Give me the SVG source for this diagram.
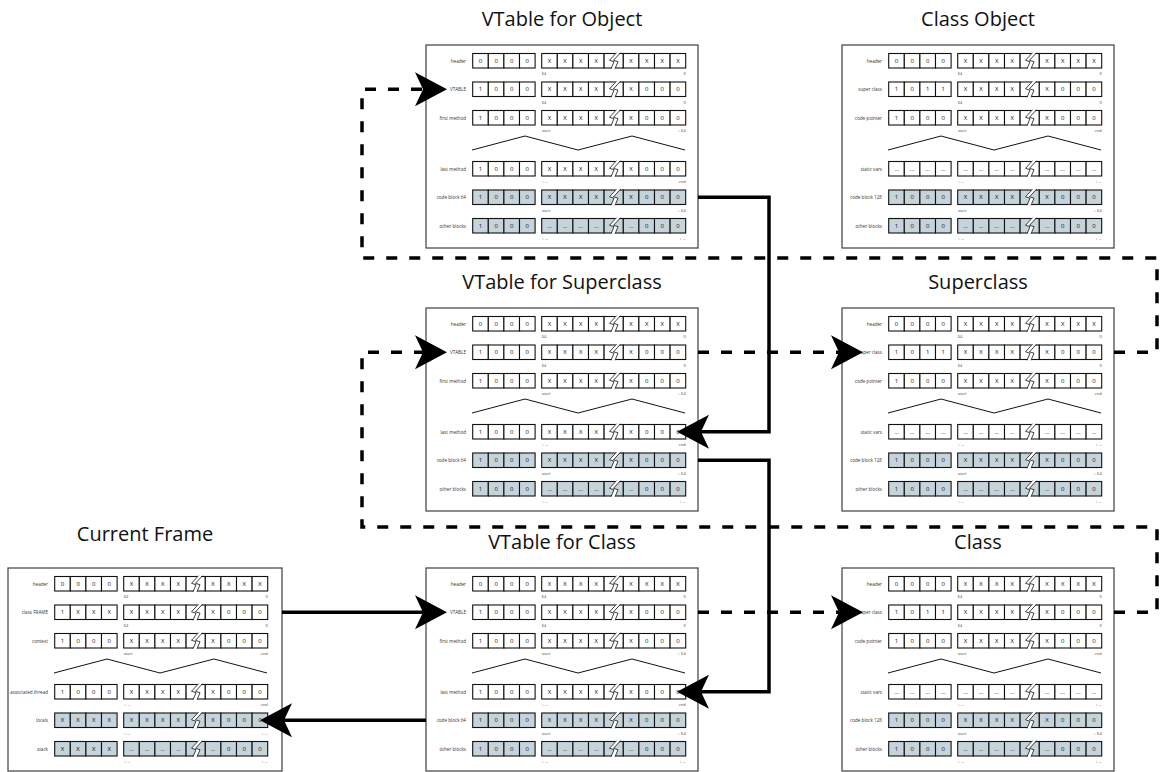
<svg xmlns="http://www.w3.org/2000/svg" xmlns:xlink="http://www.w3.org/1999/xlink" width="1160" height="772" viewBox="0 0 1160 772">
<style>
.box{fill:#fff;stroke:#4d4d4d;stroke-width:1.3}
.lb{font-family:"Open Sans","Liberation Sans",sans-serif;font-size:4.6px;fill:#333;text-anchor:end}
.cv{font-family:"Open Sans","Liberation Sans",sans-serif;font-size:6px;fill:#111;text-anchor:middle}
.sl{font-family:"Open Sans","Liberation Sans",sans-serif;font-size:4px;fill:#444;text-anchor:start}
.sr{font-family:"Open Sans","Liberation Sans",sans-serif;font-size:4px;fill:#444;text-anchor:end}
.title{font-family:"Open Sans","Liberation Sans",sans-serif;font-size:20px;fill:#111;text-anchor:middle}
.zz{fill:none;stroke:#111;stroke-width:1}
.conn{fill:none;stroke:#000;stroke-width:3.5;marker-end:url(#ah)}
.dash{stroke-dasharray:11 12}
</style>
<defs>
<marker id="ah" markerUnits="userSpaceOnUse" orient="auto" markerWidth="44" markerHeight="44" viewBox="-44 -22 44 44" refX="-10" refY="0" overflow="visible">
<path d="M0,0 L-32,-17 L-24,0 L-32,17 Z" fill="#000"/>
</marker>
<g id="cells" stroke="#111" stroke-width="1.1">
<rect x="46.7" y="0" width="15.6" height="14.5"/>
<rect x="62.3" y="0" width="15.6" height="14.5"/>
<rect x="77.9" y="0" width="15.6" height="14.5"/>
<rect x="93.5" y="0" width="15.6" height="14.5"/>
<rect x="115.7" y="0" width="15.6" height="14.5"/>
<rect x="131.3" y="0" width="15.6" height="14.5"/>
<rect x="146.9" y="0" width="15.6" height="14.5"/>
<rect x="162.5" y="0" width="15.6" height="14.5"/>
<rect x="178.1" y="0" width="19.2" height="14.5"/>
<rect x="197.3" y="0" width="15.6" height="14.5"/>
<rect x="212.9" y="0" width="15.6" height="14.5"/>
<rect x="228.5" y="0" width="15.6" height="14.5"/>
<rect x="244.1" y="0" width="15.6" height="14.5"/>
<polygon fill="#fff" stroke="none" points="190.5,-1.2 183.5,6.8 188,8.2 185,15.7 189,15.7 192,8.2 187.5,6.8 194.5,-1.2"/>
<polyline fill="none" stroke-width="0.8" points="190.5,-0.8 183.5,6.8 188,8.2 185,15.3"/>
<polyline fill="none" stroke-width="0.8" points="194.5,-0.8 187.5,6.8 192,8.2 189,15.3"/>
</g>
</defs>

<!-- VTable for Object -->
<g id="vtable-object">
<text class="title" x="562" y="26">VTable for Object</text>
<g transform="translate(426,45)">
<rect class="box" x="0" y="0" width="272" height="203"/>
<polyline class="zz" points="46,105 99,91 152,105 206,91 259,105"/>
<g transform="translate(0,8.5)"><use xlink:href="#cells" fill="#fff"/><text class="lb" x="40" y="9">header</text><text class="cv" x="54.5 70.1 85.7 101.3 123.5 139.1 154.7 170.3 205.1 220.7 236.3 251.9" y="9.4">0000XXXXXXXX</text><text class="sl" x="115.7" y="21.5">64</text><text class="sr" x="259.7" y="21.5">0</text></g>
<g transform="translate(0,37)"><use xlink:href="#cells" fill="#fff"/><text class="lb" x="40" y="9">VTABLE</text><text class="cv" x="54.5 70.1 85.7 101.3 123.5 139.1 154.7 170.3 205.1 220.7 236.3 251.9" y="9.4">1000XXXXX000</text><text class="sl" x="115.7" y="21.5">64</text><text class="sr" x="259.7" y="21.5">0</text></g>
<g transform="translate(0,65.5)"><use xlink:href="#cells" fill="#fff"/><text class="lb" x="40" y="9">first method</text><text class="cv" x="54.5 70.1 85.7 101.3 123.5 139.1 154.7 170.3 205.1 220.7 236.3 251.9" y="9.4">1000XXXXX000</text><text class="sl" x="115.7" y="21.5">start</text><text class="sr" x="259.7" y="21.5">+ 64</text></g>
<g transform="translate(0,116.5)"><use xlink:href="#cells" fill="#fff"/><text class="lb" x="40" y="9">last method</text><text class="cv" x="54.5 70.1 85.7 101.3 123.5 139.1 154.7 170.3 205.1 220.7 236.3 251.9" y="9.4">1000XXXXX000</text><text class="sl" x="115.7" y="21.5">+ &#8230;</text><text class="sr" x="259.7" y="21.5">end</text></g>
<g transform="translate(0,145)"><use xlink:href="#cells" fill="#c5d4db"/><text class="lb" x="40" y="9">code block 64</text><text class="cv" x="54.5 70.1 85.7 101.3 123.5 139.1 154.7 170.3 205.1 220.7 236.3 251.9" y="9.4">1000XXXXX000</text><text class="sl" x="115.7" y="21.5">start</text><text class="sr" x="259.7" y="21.5">+ 64</text></g>
<g transform="translate(0,173.5)"><use xlink:href="#cells" fill="#c5d4db"/><text class="lb" x="40" y="9">other blocks</text><text class="cv" x="54.5 70.1 85.7 101.3 123.5 139.1 154.7 170.3 205.1 220.7 236.3 251.9" y="9.4">1000&#8230;&#8230;&#8230;&#8230;&#8230;000</text><text class="sl" x="115.7" y="21.5">+ &#8230;</text><text class="sr" x="259.7" y="21.5">+ &#8230;</text></g>
</g>
</g>

<!-- Class Object -->
<g id="class-object">
<text class="title" x="978" y="26">Class Object</text>
<g transform="translate(842,45)">
<rect class="box" x="0" y="0" width="272" height="203"/>
<polyline class="zz" points="46,105 99,91 152,105 206,91 259,105"/>
<g transform="translate(0,8.5)"><use xlink:href="#cells" fill="#fff"/><text class="lb" x="40" y="9">header</text><text class="cv" x="54.5 70.1 85.7 101.3 123.5 139.1 154.7 170.3 205.1 220.7 236.3 251.9" y="9.4">0000XXXXXXXX</text><text class="sl" x="115.7" y="21.5">64</text><text class="sr" x="259.7" y="21.5">0</text></g>
<g transform="translate(0,37)"><use xlink:href="#cells" fill="#fff"/><text class="lb" x="40" y="9">super class</text><text class="cv" x="54.5 70.1 85.7 101.3 123.5 139.1 154.7 170.3 205.1 220.7 236.3 251.9" y="9.4">1011XXXXX000</text><text class="sl" x="115.7" y="21.5">64</text><text class="sr" x="259.7" y="21.5">0</text></g>
<g transform="translate(0,65.5)"><use xlink:href="#cells" fill="#fff"/><text class="lb" x="40" y="9">code pointer</text><text class="cv" x="54.5 70.1 85.7 101.3 123.5 139.1 154.7 170.3 205.1 220.7 236.3 251.9" y="9.4">1000XXXXX000</text><text class="sl" x="115.7" y="21.5">start</text><text class="sr" x="259.7" y="21.5">end</text></g>
<g transform="translate(0,116.5)"><use xlink:href="#cells" fill="#fff"/><text class="lb" x="40" y="9">static vars</text><text class="cv" x="54.5 70.1 85.7 101.3 123.5 139.1 154.7 170.3 205.1 220.7 236.3 251.9" y="9.4">&#8230;&#8230;&#8230;&#8230;&#8230;&#8230;&#8230;&#8230;&#8230;&#8230;&#8230;&#8230;</text><text class="sl" x="115.7" y="21.5">+ &#8230;</text><text class="sr" x="259.7" y="21.5">+ &#8230;</text></g>
<g transform="translate(0,145)"><use xlink:href="#cells" fill="#c5d4db"/><text class="lb" x="40" y="9">code block 128</text><text class="cv" x="54.5 70.1 85.7 101.3 123.5 139.1 154.7 170.3 205.1 220.7 236.3 251.9" y="9.4">1000XXXXX000</text><text class="sl" x="115.7" y="21.5">start</text><text class="sr" x="259.7" y="21.5">+ 64</text></g>
<g transform="translate(0,173.5)"><use xlink:href="#cells" fill="#c5d4db"/><text class="lb" x="40" y="9">other blocks</text><text class="cv" x="54.5 70.1 85.7 101.3 123.5 139.1 154.7 170.3 205.1 220.7 236.3 251.9" y="9.4">1000&#8230;&#8230;&#8230;&#8230;&#8230;000</text><text class="sl" x="115.7" y="21.5">+ &#8230;</text><text class="sr" x="259.7" y="21.5">+ &#8230;</text></g>
</g>
</g>

<!-- VTable for Superclass -->
<g id="vtable-superclass">
<text class="title" x="562" y="289">VTable for Superclass</text>
<g transform="translate(426,308)">
<rect class="box" x="0" y="0" width="272" height="203"/>
<polyline class="zz" points="46,105 99,91 152,105 206,91 259,105"/>
<g transform="translate(0,8.5)"><use xlink:href="#cells" fill="#fff"/><text class="lb" x="40" y="9">header</text><text class="cv" x="54.5 70.1 85.7 101.3 123.5 139.1 154.7 170.3 205.1 220.7 236.3 251.9" y="9.4">0000XXXXXXXX</text><text class="sl" x="115.7" y="21.5">64</text><text class="sr" x="259.7" y="21.5">0</text></g>
<g transform="translate(0,37)"><use xlink:href="#cells" fill="#fff"/><text class="lb" x="40" y="9">VTABLE</text><text class="cv" x="54.5 70.1 85.7 101.3 123.5 139.1 154.7 170.3 205.1 220.7 236.3 251.9" y="9.4">1000XXXXX000</text><text class="sl" x="115.7" y="21.5">64</text><text class="sr" x="259.7" y="21.5">0</text></g>
<g transform="translate(0,65.5)"><use xlink:href="#cells" fill="#fff"/><text class="lb" x="40" y="9">first method</text><text class="cv" x="54.5 70.1 85.7 101.3 123.5 139.1 154.7 170.3 205.1 220.7 236.3 251.9" y="9.4">1000XXXXX000</text><text class="sl" x="115.7" y="21.5">start</text><text class="sr" x="259.7" y="21.5">+ 64</text></g>
<g transform="translate(0,116.5)"><use xlink:href="#cells" fill="#fff"/><text class="lb" x="40" y="9">last method</text><text class="cv" x="54.5 70.1 85.7 101.3 123.5 139.1 154.7 170.3 205.1 220.7 236.3 251.9" y="9.4">1000XXXXX000</text><text class="sl" x="115.7" y="21.5">+ &#8230;</text><text class="sr" x="259.7" y="21.5">end</text></g>
<g transform="translate(0,145)"><use xlink:href="#cells" fill="#c5d4db"/><text class="lb" x="40" y="9">code block 64</text><text class="cv" x="54.5 70.1 85.7 101.3 123.5 139.1 154.7 170.3 205.1 220.7 236.3 251.9" y="9.4">1000XXXXX000</text><text class="sl" x="115.7" y="21.5">start</text><text class="sr" x="259.7" y="21.5">+ 64</text></g>
<g transform="translate(0,173.5)"><use xlink:href="#cells" fill="#c5d4db"/><text class="lb" x="40" y="9">other blocks</text><text class="cv" x="54.5 70.1 85.7 101.3 123.5 139.1 154.7 170.3 205.1 220.7 236.3 251.9" y="9.4">1000&#8230;&#8230;&#8230;&#8230;&#8230;000</text><text class="sl" x="115.7" y="21.5">+ &#8230;</text><text class="sr" x="259.7" y="21.5">+ &#8230;</text></g>
</g>
</g>

<!-- Superclass -->
<g id="superclass">
<text class="title" x="978" y="289">Superclass</text>
<g transform="translate(842,308)">
<rect class="box" x="0" y="0" width="272" height="203"/>
<polyline class="zz" points="46,105 99,91 152,105 206,91 259,105"/>
<g transform="translate(0,8.5)"><use xlink:href="#cells" fill="#fff"/><text class="lb" x="40" y="9">header</text><text class="cv" x="54.5 70.1 85.7 101.3 123.5 139.1 154.7 170.3 205.1 220.7 236.3 251.9" y="9.4">0000XXXXXXXX</text><text class="sl" x="115.7" y="21.5">64</text><text class="sr" x="259.7" y="21.5">0</text></g>
<g transform="translate(0,37)"><use xlink:href="#cells" fill="#fff"/><text class="lb" x="40" y="9">super class</text><text class="cv" x="54.5 70.1 85.7 101.3 123.5 139.1 154.7 170.3 205.1 220.7 236.3 251.9" y="9.4">1011XXXXX000</text><text class="sl" x="115.7" y="21.5">64</text><text class="sr" x="259.7" y="21.5">0</text></g>
<g transform="translate(0,65.5)"><use xlink:href="#cells" fill="#fff"/><text class="lb" x="40" y="9">code pointer</text><text class="cv" x="54.5 70.1 85.7 101.3 123.5 139.1 154.7 170.3 205.1 220.7 236.3 251.9" y="9.4">1000XXXXX000</text><text class="sl" x="115.7" y="21.5">start</text><text class="sr" x="259.7" y="21.5">end</text></g>
<g transform="translate(0,116.5)"><use xlink:href="#cells" fill="#fff"/><text class="lb" x="40" y="9">static vars</text><text class="cv" x="54.5 70.1 85.7 101.3 123.5 139.1 154.7 170.3 205.1 220.7 236.3 251.9" y="9.4">&#8230;&#8230;&#8230;&#8230;&#8230;&#8230;&#8230;&#8230;&#8230;&#8230;&#8230;&#8230;</text><text class="sl" x="115.7" y="21.5">+ &#8230;</text><text class="sr" x="259.7" y="21.5">+ &#8230;</text></g>
<g transform="translate(0,145)"><use xlink:href="#cells" fill="#c5d4db"/><text class="lb" x="40" y="9">code block 128</text><text class="cv" x="54.5 70.1 85.7 101.3 123.5 139.1 154.7 170.3 205.1 220.7 236.3 251.9" y="9.4">1000XXXXX000</text><text class="sl" x="115.7" y="21.5">start</text><text class="sr" x="259.7" y="21.5">+ 64</text></g>
<g transform="translate(0,173.5)"><use xlink:href="#cells" fill="#c5d4db"/><text class="lb" x="40" y="9">other blocks</text><text class="cv" x="54.5 70.1 85.7 101.3 123.5 139.1 154.7 170.3 205.1 220.7 236.3 251.9" y="9.4">1000&#8230;&#8230;&#8230;&#8230;&#8230;000</text><text class="sl" x="115.7" y="21.5">+ &#8230;</text><text class="sr" x="259.7" y="21.5">+ &#8230;</text></g>
</g>
</g>

<!-- Current Frame -->
<g id="current-frame">
<text class="title" x="145" y="541">Current Frame</text>
<g transform="translate(8,568)">
<rect class="box" x="0" y="0" width="274" height="203"/>
<polyline class="zz" points="46,105 99,91 152,105 206,91 259,105"/>
<g transform="translate(0,8.5)"><use xlink:href="#cells" fill="#fff"/><text class="lb" x="40" y="9">header</text><text class="cv" x="54.5 70.1 85.7 101.3 123.5 139.1 154.7 170.3 205.1 220.7 236.3 251.9" y="9.4">0000XXXXXXXX</text><text class="sl" x="115.7" y="21.5">64</text><text class="sr" x="259.7" y="21.5">0</text></g>
<g transform="translate(0,37)"><use xlink:href="#cells" fill="#fff"/><text class="lb" x="40" y="9">class FRAME</text><text class="cv" x="54.5 70.1 85.7 101.3 123.5 139.1 154.7 170.3 205.1 220.7 236.3 251.9" y="9.4">1XXXXXXXX000</text><text class="sl" x="115.7" y="21.5">64</text><text class="sr" x="259.7" y="21.5">0</text></g>
<g transform="translate(0,65.5)"><use xlink:href="#cells" fill="#fff"/><text class="lb" x="40" y="9">context</text><text class="cv" x="54.5 70.1 85.7 101.3 123.5 139.1 154.7 170.3 205.1 220.7 236.3 251.9" y="9.4">1000XXXXX000</text><text class="sl" x="115.7" y="21.5">start</text><text class="sr" x="259.7" y="21.5">end</text></g>
<g transform="translate(0,116.5)"><use xlink:href="#cells" fill="#fff"/><text class="lb" x="40" y="9">associated thread</text><text class="cv" x="54.5 70.1 85.7 101.3 123.5 139.1 154.7 170.3 205.1 220.7 236.3 251.9" y="9.4">1000XXXXX000</text><text class="sl" x="115.7" y="21.5">+ &#8230;</text><text class="sr" x="259.7" y="21.5">end</text></g>
<g transform="translate(0,145)"><use xlink:href="#cells" fill="#c5d4db"/><text class="lb" x="40" y="9">locals</text><text class="cv" x="54.5 70.1 85.7 101.3 123.5 139.1 154.7 170.3 205.1 220.7 236.3 251.9" y="9.4">XXXXXXXXX000</text><text class="sl" x="115.7" y="21.5">+ &#8230;</text><text class="sr" x="259.7" y="21.5">+ &#8230;</text></g>
<g transform="translate(0,173.5)"><use xlink:href="#cells" fill="#c5d4db"/><text class="lb" x="40" y="9">stack</text><text class="cv" x="54.5 70.1 85.7 101.3 123.5 139.1 154.7 170.3 205.1 220.7 236.3 251.9" y="9.4">XXXX&#8230;&#8230;&#8230;&#8230;&#8230;000</text><text class="sl" x="115.7" y="21.5">+ &#8230;</text><text class="sr" x="259.7" y="21.5">+ &#8230;</text></g>
</g>
</g>

<!-- VTable for Class -->
<g id="vtable-class">
<text class="title" x="562" y="549">VTable for Class</text>
<g transform="translate(426,568)">
<rect class="box" x="0" y="0" width="272" height="203"/>
<polyline class="zz" points="46,105 99,91 152,105 206,91 259,105"/>
<g transform="translate(0,8.5)"><use xlink:href="#cells" fill="#fff"/><text class="lb" x="40" y="9">header</text><text class="cv" x="54.5 70.1 85.7 101.3 123.5 139.1 154.7 170.3 205.1 220.7 236.3 251.9" y="9.4">0000XXXXXXXX</text><text class="sl" x="115.7" y="21.5">64</text><text class="sr" x="259.7" y="21.5">0</text></g>
<g transform="translate(0,37)"><use xlink:href="#cells" fill="#fff"/><text class="lb" x="40" y="9">VTABLE</text><text class="cv" x="54.5 70.1 85.7 101.3 123.5 139.1 154.7 170.3 205.1 220.7 236.3 251.9" y="9.4">1000XXXXX000</text><text class="sl" x="115.7" y="21.5">64</text><text class="sr" x="259.7" y="21.5">0</text></g>
<g transform="translate(0,65.5)"><use xlink:href="#cells" fill="#fff"/><text class="lb" x="40" y="9">first method</text><text class="cv" x="54.5 70.1 85.7 101.3 123.5 139.1 154.7 170.3 205.1 220.7 236.3 251.9" y="9.4">1000XXXXX000</text><text class="sl" x="115.7" y="21.5">start</text><text class="sr" x="259.7" y="21.5">+ 64</text></g>
<g transform="translate(0,116.5)"><use xlink:href="#cells" fill="#fff"/><text class="lb" x="40" y="9">last method</text><text class="cv" x="54.5 70.1 85.7 101.3 123.5 139.1 154.7 170.3 205.1 220.7 236.3 251.9" y="9.4">1000XXXXX000</text><text class="sl" x="115.7" y="21.5">+ &#8230;</text><text class="sr" x="259.7" y="21.5">end</text></g>
<g transform="translate(0,145)"><use xlink:href="#cells" fill="#c5d4db"/><text class="lb" x="40" y="9">code block 64</text><text class="cv" x="54.5 70.1 85.7 101.3 123.5 139.1 154.7 170.3 205.1 220.7 236.3 251.9" y="9.4">1000XXXXX000</text><text class="sl" x="115.7" y="21.5">start</text><text class="sr" x="259.7" y="21.5">+ 64</text></g>
<g transform="translate(0,173.5)"><use xlink:href="#cells" fill="#c5d4db"/><text class="lb" x="40" y="9">other blocks</text><text class="cv" x="54.5 70.1 85.7 101.3 123.5 139.1 154.7 170.3 205.1 220.7 236.3 251.9" y="9.4">1000&#8230;&#8230;&#8230;&#8230;&#8230;000</text><text class="sl" x="115.7" y="21.5">+ &#8230;</text><text class="sr" x="259.7" y="21.5">+ &#8230;</text></g>
</g>
</g>

<!-- Class -->
<g id="class">
<text class="title" x="978" y="549">Class</text>
<g transform="translate(842,568)">
<rect class="box" x="0" y="0" width="272" height="203"/>
<polyline class="zz" points="46,105 99,91 152,105 206,91 259,105"/>
<g transform="translate(0,8.5)"><use xlink:href="#cells" fill="#fff"/><text class="lb" x="40" y="9">header</text><text class="cv" x="54.5 70.1 85.7 101.3 123.5 139.1 154.7 170.3 205.1 220.7 236.3 251.9" y="9.4">0000XXXXXXXX</text><text class="sl" x="115.7" y="21.5">64</text><text class="sr" x="259.7" y="21.5">0</text></g>
<g transform="translate(0,37)"><use xlink:href="#cells" fill="#fff"/><text class="lb" x="40" y="9">super class</text><text class="cv" x="54.5 70.1 85.7 101.3 123.5 139.1 154.7 170.3 205.1 220.7 236.3 251.9" y="9.4">1011XXXXX000</text><text class="sl" x="115.7" y="21.5">64</text><text class="sr" x="259.7" y="21.5">0</text></g>
<g transform="translate(0,65.5)"><use xlink:href="#cells" fill="#fff"/><text class="lb" x="40" y="9">code pointer</text><text class="cv" x="54.5 70.1 85.7 101.3 123.5 139.1 154.7 170.3 205.1 220.7 236.3 251.9" y="9.4">1000XXXXX000</text><text class="sl" x="115.7" y="21.5">start</text><text class="sr" x="259.7" y="21.5">end</text></g>
<g transform="translate(0,116.5)"><use xlink:href="#cells" fill="#fff"/><text class="lb" x="40" y="9">static vars</text><text class="cv" x="54.5 70.1 85.7 101.3 123.5 139.1 154.7 170.3 205.1 220.7 236.3 251.9" y="9.4">&#8230;&#8230;&#8230;&#8230;&#8230;&#8230;&#8230;&#8230;&#8230;&#8230;&#8230;&#8230;</text><text class="sl" x="115.7" y="21.5">+ &#8230;</text><text class="sr" x="259.7" y="21.5">+ &#8230;</text></g>
<g transform="translate(0,145)"><use xlink:href="#cells" fill="#c5d4db"/><text class="lb" x="40" y="9">code block 128</text><text class="cv" x="54.5 70.1 85.7 101.3 123.5 139.1 154.7 170.3 205.1 220.7 236.3 251.9" y="9.4">1000XXXXX000</text><text class="sl" x="115.7" y="21.5">start</text><text class="sr" x="259.7" y="21.5">+ 64</text></g>
<g transform="translate(0,173.5)"><use xlink:href="#cells" fill="#c5d4db"/><text class="lb" x="40" y="9">other blocks</text><text class="cv" x="54.5 70.1 85.7 101.3 123.5 139.1 154.7 170.3 205.1 220.7 236.3 251.9" y="9.4">1000&#8230;&#8230;&#8230;&#8230;&#8230;000</text><text class="sl" x="115.7" y="21.5">+ &#8230;</text><text class="sr" x="259.7" y="21.5">+ &#8230;</text></g>
</g>
</g>

<!-- connectors -->
<g id="connectors">
<path class="conn" d="M698,197.25 H769 V431.75 H687"/>
<path class="conn" d="M698,460.25 H769 V691.75 H687"/>
<path class="conn" d="M282,612.25 H437"/>
<path class="conn" d="M426,720.25 H270"/>
<path class="conn dash" d="M698,612.25 H853"/>
<path class="conn dash" d="M1114,612.25 H1157 V527 H362 V352.25 H437"/>
<path class="conn dash" d="M698,352.25 H853"/>
<path class="conn dash" d="M1114,352.25 H1157 V258 H362 V89.25 H437"/>
</g>
</svg>
